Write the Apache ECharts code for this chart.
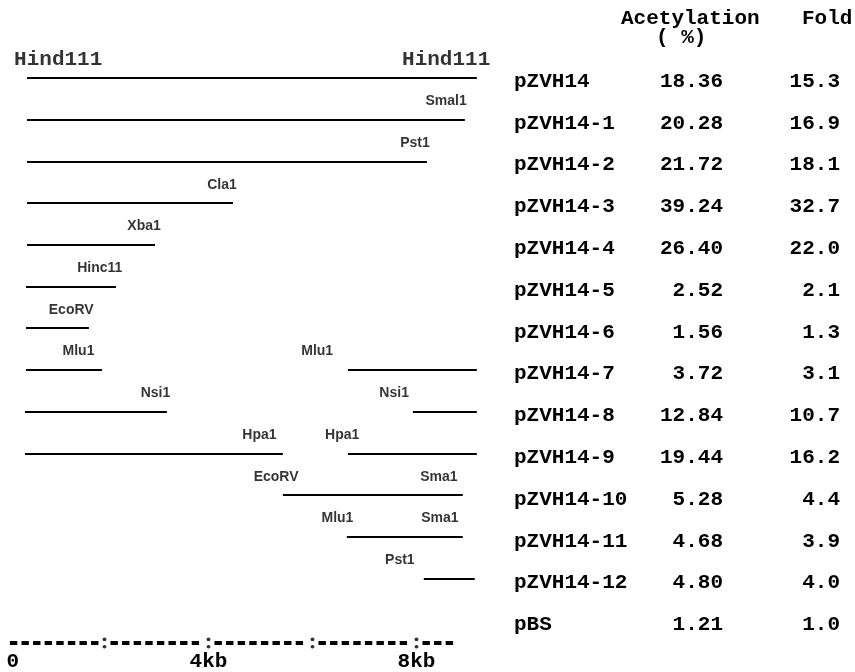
<!DOCTYPE html>
<html>
<head>
<meta charset="utf-8">
<script src="https://cdn.jsdelivr.net/npm/echarts@6/dist/echarts.min.js"></script>
<style>html,body{margin:0;padding:0;background:#fff}#c{width:855px;height:672px}</style>
</head>
<body>
<div id="c"></div>
<script>
// ---- data ----
const constructs = ['pZVH14','pZVH14-1','pZVH14-2','pZVH14-3','pZVH14-4','pZVH14-5','pZVH14-6',
  'pZVH14-7','pZVH14-8','pZVH14-9','pZVH14-10','pZVH14-11','pZVH14-12','pBS'];
const acetylation = [18.36,20.28,21.72,39.24,26.40,2.52,1.56,3.72,12.84,19.44,5.28,4.68,4.80,1.21];
const fold = [15.3,16.9,18.1,32.7,22.0,2.1,1.3,3.1,10.7,16.2,4.4,3.9,4.0,1.0];

// fragments retained in each construct (row index, start kb, end kb)
const fragRow   = [0,1,2,3,4,5,6,7,7,8,8,9,9,10,11,12];
const fragStart = [0.51,0.51,0.51,0.51,0.51,0.49,0.49,0.49,6.68,0.47,7.93,0.47,6.68,5.43,6.66,8.14];
const fragEnd   = [9.16,8.93,8.20,4.47,2.97,2.22,1.70,1.95,9.16,3.20,9.16,5.43,9.16,8.89,8.89,9.12];

// restriction-site labels (row, name, kb)
const siteRow  = [1,2,3,4,5,6,7,7,8,8,9,9,10,10,11,11,12];
const siteName = ['Smal1','Pst1','Cla1','Xba1','Hinc11','EcoRV','Mlu1','Mlu1','Nsi1','Nsi1',
  'Hpa1','Hpa1','EcoRV','Sma1','Mlu1','Sma1','Pst1'];
const siteKb   = [8.57,7.97,4.26,2.76,1.91,1.36,1.50,6.09,2.98,7.57,4.98,6.57,5.30,8.43,6.48,8.45,7.68];

// end sites of the full insert
const endName = ['Hind111','Hind111'];
const endKb   = [1.11, 8.57];
const endRow  = [0, 0];

// scale bar
const axisTickLabels = ['0','4kb','8kb'];
const colonKb = [2,4,6,8];
const scaleStartKb = 0.18;
const scaleEndKb = 8.74;

// ---- build ----
const MONO = "'Liberation Mono','DejaVu Sans Mono',monospace";
const SANS = "'Liberation Sans',Arial,sans-serif";
const INK = '#000';
const labelLift = 0.44;
const scaleRow = 13.55;
const colonGap = 0.115;

const fragData = fragRow.map((r, i) => ({coords: [[fragStart[i], r], [fragEnd[i], r]]}));
const bounds = [scaleStartKb, ...colonKb, scaleEndKb];
const scaleData = [];
for (let i = 0; i < bounds.length - 1; i++) {
  const a = i === 0 ? bounds[i] : bounds[i] + colonGap;
  const b = i === bounds.length - 2 ? bounds[i + 1] : bounds[i + 1] - colonGap;
  scaleData.push({coords: [[a, scaleRow], [b, scaleRow]]});
}

const monoStyle = {fontFamily: MONO, fontWeight: 'bold', fontSize: 21, color: INK};

const chart = echarts.init(document.getElementById('c'), null, {renderer: 'canvas'});
chart.setOption({
  backgroundColor: '#fff',
  animation: false,
  title: [
    {text: 'Acetylation', left: 616, top: 3, textStyle: monoStyle},
    {text: '( %)', left: 651, top: 22, textStyle: monoStyle},
    {text: 'Fold', left: 797, top: 3, textStyle: monoStyle}
  ],
  grid: [
    {left: 0.5, width: 488.8, top: 15.3, height: 627, containLabel: false},
    {left: 514, width: 335, top: 58.6, height: 585.2, containLabel: false}
  ],
  xAxis: [
    {type: 'value', gridIndex: 0, min: 0, max: 9.4, interval: 4,
     axisLine: {show: false}, axisTick: {show: false}, splitLine: {show: false},
     axisLabel: {show: true, margin: 10, color: INK, fontFamily: MONO, fontWeight: 'bold', fontSize: 21,
       showMaxLabel: false,
       formatter: (v) => {
         if (Math.abs(v / 4 - Math.round(v / 4)) > 1e-6) return '';
         const idx = Math.round(v / 4);
         const t = axisTickLabels[idx];
         if (t === undefined) return '';
         return idx === 0 ? '{z|' + t + '}' : '{k|' + t + '}';
       },
       rich: {
         z: Object.assign({width: 37, align: 'right'}, monoStyle),
         k: Object.assign({}, monoStyle)
       }}},
    {type: 'value', gridIndex: 1, show: false}
  ],
  yAxis: [
    {type: 'value', gridIndex: 0, inverse: true, min: -1.5, max: 13.5, show: false},
    {type: 'category', gridIndex: 1, inverse: true, data: constructs,
     axisLine: {show: false}, axisTick: {show: false}, splitLine: {show: false},
     axisLabel: {inside: true, margin: 0, padding: [4, 0, 0, 0],
       formatter: (v, i) => '{n|' + v + '}{a|' + acetylation[i].toFixed(2) + '}{f|' + fold[i].toFixed(1) + '}',
       rich: {
         n: Object.assign({width: 130, align: 'left'}, monoStyle),
         a: Object.assign({width: 79, align: 'right'}, monoStyle),
         f: Object.assign({width: 117, align: 'right'}, monoStyle)
       }}}
  ],
  series: [
    {type: 'lines', coordinateSystem: 'cartesian2d', xAxisIndex: 0, yAxisIndex: 0,
     data: fragData, silent: true,
     lineStyle: {color: INK, width: 1.8, opacity: 1, cap: 'butt'}},
    {type: 'lines', coordinateSystem: 'cartesian2d', xAxisIndex: 0, yAxisIndex: 0,
     data: scaleData, silent: true, clip: false,
     lineStyle: {color: INK, width: 4, opacity: 1, type: [7.4, 4.2], cap: 'butt'}},
    {type: 'scatter', xAxisIndex: 0, yAxisIndex: 0, silent: true, clip: false,
     data: colonKb.map(k => [k, scaleRow]),
     symbol: 'path://M2,0A2,2,0,1,1,2,4A2,2,0,1,1,2,0ZM2,8A2,2,0,1,1,2,12A2,2,0,1,1,2,8Z',
     symbolSize: [4, 11], itemStyle: {color: INK}},
    {type: 'scatter', xAxisIndex: 0, yAxisIndex: 0, silent: true, clip: false,
     data: siteName.map((n, i) => ({name: n, value: [siteKb[i], siteRow[i] - labelLift]})),
     symbolSize: 0, itemStyle: {color: 'transparent'},
     label: {show: true, position: 'inside', formatter: p => p.name,
       fontFamily: SANS, fontWeight: 'bold', fontSize: 14, color: INK}},
    {type: 'scatter', xAxisIndex: 0, yAxisIndex: 0, silent: true, clip: false,
     data: endName.map((n, i) => ({name: n, value: [endKb[i], endRow[i] - labelLift]})),
     symbolSize: 0, itemStyle: {color: 'transparent'},
     label: {show: true, position: 'inside', formatter: p => p.name,
       fontFamily: MONO, fontWeight: 'bold', fontSize: 21, color: INK}}
  ]
});
</script>
</body>
</html>
